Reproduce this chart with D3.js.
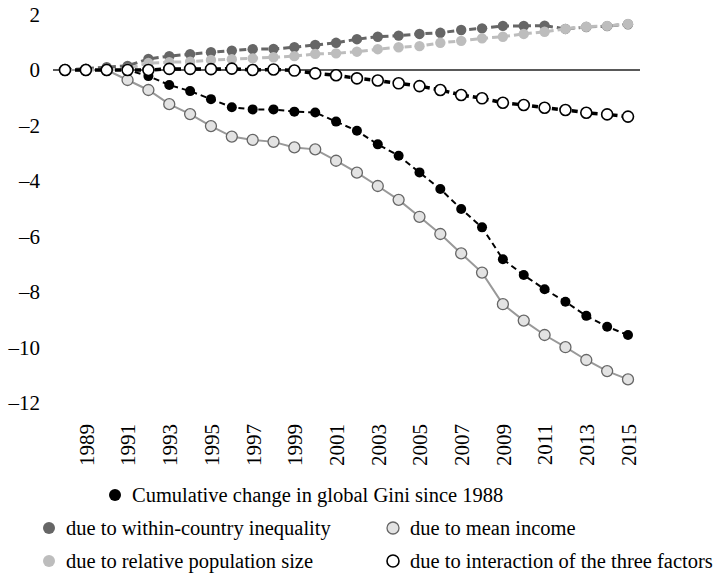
<!DOCTYPE html>
<html>
  <head>
    <meta charset="utf-8" />
    <script src="https://d3js.org/d3.v7.min.js"></script>
    <style>
      body { margin: 0; background: #fff; }
      svg text { font-family: 'Liberation Serif', 'Times New Roman', serif; fill: #000; }
      .zero { stroke: #222; stroke-width: 1.3; }
    </style>
  </head>
  <body>
    <div id="chart"></div>
    <script type="text/javascript">
      var w = 718, h = 573;

      var years = d3.range(1988, 2016);
      var yearTicks = d3.range(1989, 2016, 2);
      var yTicks = [2, 0, -2, -4, -6, -8, -10, -12];

      var total = [0, 0, 0, 0, -0.22, -0.54, -0.76, -1.05, -1.34, -1.42, -1.42, -1.5, -1.53, -1.86,
        -2.19, -2.68, -3.09, -3.69, -4.29, -5.01, -5.67, -6.82, -7.39, -7.9, -8.35, -8.86, -9.25, -9.55];
      var within = [0, 0.05, 0.1, 0.15, 0.4, 0.5, 0.57, 0.64, 0.7, 0.75, 0.76, 0.82, 0.9, 0.98,
        1.11, 1.2, 1.24, 1.3, 1.34, 1.44, 1.5, 1.59, 1.59, 1.6, 1.48, 1.55, 1.58, 1.65];
      var popSize = [0, 0, 0, 0.05, 0.25, 0.28, 0.3, 0.36, 0.39, 0.42, 0.46, 0.5, 0.58, 0.6,
        0.66, 0.75, 0.82, 0.86, 0.98, 1.05, 1.14, 1.2, 1.3, 1.38, 1.48, 1.56, 1.59, 1.66];
      var meanIncome = [0, 0, 0, -0.36, -0.72, -1.23, -1.59, -2.02, -2.4, -2.52, -2.59, -2.79, -2.86, -3.27,
        -3.7, -4.18, -4.68, -5.29, -5.91, -6.61, -7.3, -8.44, -9.03, -9.55, -9.99, -10.45, -10.85, -11.15];
      var interaction = [0, 0, 0, 0, 0, 0.04, 0.04, 0.03, 0.05, 0, 0.02, -0.02, -0.12, -0.19,
        -0.3, -0.38, -0.48, -0.58, -0.72, -0.9, -1.02, -1.18, -1.26, -1.36, -1.44, -1.54, -1.6, -1.68];

      // drawing order: bottom first
      var series = [
        { name: "due to mean income", values: meanIncome, line: "#999", dash: null, lw: 2,
          fill: "#e3e3e3", stroke: "#666", sw: 1.3, r: 5.5 },
        { name: "Cumulative change in global Gini since 1988", values: total, line: "#000", dash: "6,4", lw: 2,
          fill: "#000", stroke: "none", sw: 0, r: 5 },
        { name: "due to within-country inequality", values: within, line: "#666", dash: "7,4", lw: 3,
          fill: "#666", stroke: "none", sw: 0, r: 5.2 },
        { name: "due to relative population size", values: popSize, line: "#bdbdbd", dash: "7,4", lw: 3,
          fill: "#bdbdbd", stroke: "none", sw: 0, r: 5.2 },
        { name: "due to interaction of the three factors", values: interaction, line: "#000", dash: "6,4", lw: 3.5,
          fill: "#fff", stroke: "#000", sw: 1.6, r: 5.5 }
      ];

      var x = d3.scaleLinear().domain([1988, 2015]).range([65, 628]);
      var y = d3.scaleLinear().domain([-12, 2]).range([403, 14.5]);

      var svg = d3.select("#chart").append("svg")
        .attr("width", w)
        .attr("height", h);

      var serif = "'Liberation Serif', 'Times New Roman', serif";

      // y axis labels
      var yAxis = svg.append("g")
        .attr("transform", "translate(40,0)")
        .call(d3.axisLeft(y).tickValues(yTicks).tickSize(0).tickPadding(0)
          .tickFormat(function(d) { return d < 0 ? "\u2013" + (-d) : d; }));
      yAxis.attr("font-family", serif).attr("font-size", 21);
      yAxis.select(".domain").remove();

      // x axis labels (rotated)
      var xAxis = svg.append("g")
        .attr("transform", "translate(0,424)")
        .call(d3.axisBottom(x).tickValues(yearTicks).tickSize(0).tickFormat(d3.format("d")));
      xAxis.attr("font-family", serif).attr("font-size", 21);
      xAxis.select(".domain").remove();
      xAxis.selectAll(".tick text")
        .attr("text-anchor", "end")
        .attr("x", 0)
        .attr("y", 0)
        .attr("dy", "0.35em")
        .attr("transform", "rotate(-90)");

      svg.append("line")
        .attr("class", "zero")
        .attr("x1", x(1988) - 12).attr("x2", x(2015) + 12)
        .attr("y1", y(0)).attr("y2", y(0));

      var line = d3.line()
        .x(function(d, i) { return x(years[i]); })
        .y(function(d) { return y(d); });

      series.forEach(function(s) {
        var g = svg.append("g");
        g.append("path")
          .attr("d", line(s.values))
          .attr("fill", "none")
          .attr("stroke", s.line)
          .attr("stroke-width", s.lw)
          .attr("stroke-dasharray", s.dash);
        g.selectAll("circle").data(s.values).enter()
          .append("circle")
          .attr("cx", function(d, i) { return x(years[i]); })
          .attr("cy", function(d) { return y(d); })
          .attr("r", s.r)
          .attr("fill", s.fill)
          .attr("stroke", s.stroke)
          .attr("stroke-width", s.sw);
      });

      // legend
      var byName = {};
      series.forEach(function(s) { byName[s.name] = s; });
      var legend = [
        { name: "Cumulative change in global Gini since 1988", x: 115, y: 495 },
        { name: "due to within-country inequality", x: 49, y: 528 },
        { name: "due to mean income", x: 393, y: 528 },
        { name: "due to relative population size", x: 49, y: 561 },
        { name: "due to interaction of the three factors", x: 393, y: 561 }
      ];
      var lg = svg.selectAll("g.legend").data(legend).enter()
        .append("g")
        .attr("class", "legend")
        .attr("transform", function(d) { return "translate(" + d.x + "," + d.y + ")"; });
      lg.append("circle")
        .attr("r", 6)
        .attr("fill", function(d) { return byName[d.name].fill; })
        .attr("stroke", function(d) { return byName[d.name].stroke; })
        .attr("stroke-width", function(d) { return byName[d.name].sw; });
      lg.append("text")
        .attr("x", 17)
        .attr("dy", "0.33em")
        .style("font-size", "20.5px")
        .text(function(d) { return d.name; });
    </script>
  </body>
</html>
